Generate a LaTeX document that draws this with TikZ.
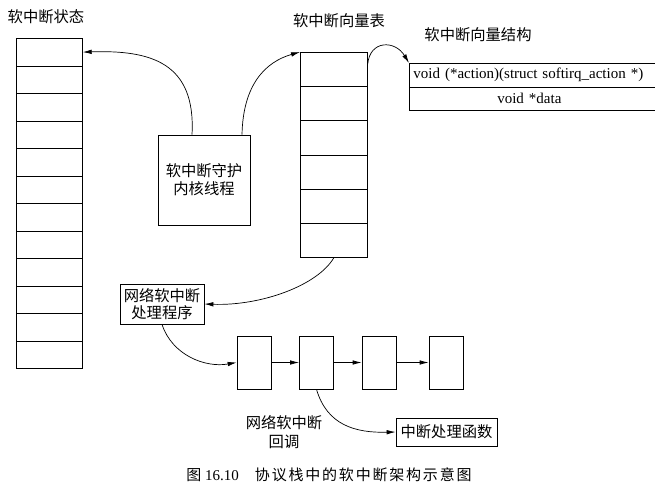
\documentclass[tikz,border=0pt]{standalone}
\usepackage{fontspec}
\setmainfont{Liberation Serif}
\newfontfamily\cjk{Noto Sans CJK SC}
\newfontfamily\cjkcap[LetterSpace=12]{Noto Sans CJK SC}
\usetikzlibrary{arrows.meta}
\begin{document}
\begin{tikzpicture}[x=1pt,y=-1pt,
  line width=0.7pt,
  box/.style={draw, inner sep=0pt, align=center, font=\fontsize{15.3}{18}\cjk},
  cell/.style={draw, inner sep=0pt, minimum width=#1, anchor=north west},
  lbl/.style={inner sep=0pt, align=center, font=\fontsize{15.3}{19}\cjk},
  arr/.style={-{Latex[length=9pt,width=4.5pt]}}]
\useasboundingbox (0,0) rectangle (655,496);
% left column
\node[lbl] (stt) at (46,17) {软中断状态};
\foreach \i in {1,...,12}
  \node[cell=66pt, minimum height=27.5pt] (s\i) at (16,{38+(\i-1)*27.5}) {};
% vector table
\node[lbl] (vtt) at (339,21) {软中断向量表};
\foreach \i in {1,...,6}
  \node[cell=67pt, minimum height=34.17pt] (v\i) at (300,{52+(\i-1)*34.17}) {};
% struct
\node[lbl] (stct) at (478,35) {软中断向量结构};
\node[cell=248pt, minimum height=23.5pt, font=\fontsize{15}{18}\selectfont, text width=244pt, align=left, inner xsep=4pt] (r1) at (409,63) {void (*action)(struct softirq\_action *)};
\node[cell=248pt, minimum height=23.5pt, font=\fontsize{15}{18}\selectfont, text width=236pt, align=center, inner xsep=4pt] (r2) at (409,86.5) {\hspace*{-8pt}void *data};
% daemon
\node[box, minimum width=92pt, minimum height=90pt] (d) at (204,180) {软中断守护\\内核线程};
% handler
\node[box, minimum width=84pt, minimum height=40pt, font=\fontsize{15.3}{17}\cjk] (h) at (162,304) {网络软中断\\处理程序};
% chain
\node[box, minimum width=34pt, minimum height=53pt] (c1) at (254,362.5) {};
\node[box, minimum width=34pt, minimum height=53pt] (c2) at (316.5,362.5) {};
\node[box, minimum width=34pt, minimum height=53pt] (c3) at (379,362.5) {};
\node[box, minimum width=34pt, minimum height=53pt] (c4) at (446,362.5) {};
% function
\node[box, minimum width=101pt, minimum height=28pt] (f) at (446.5,432) {中断处理函数};
\node[lbl] (cb) at (284,432) {网络软中断\\回调};
% connectors
\draw[arr] ([xshift=-12pt]d.north) .. controls (196,62) and (150,50) .. (s1.east);
\draw[arr] ([xshift=38pt]d.north) .. controls (243,85) and (265,62) .. (v1.north west);
\draw[arr] ([yshift=-12pt]v1.north east) .. controls (370,40) and (395,40) .. (r1.north west);
\draw[arr] (v6.south) .. controls (318,285) and (262,306) .. (h.east);
\draw[arr] (h.south) .. controls (172,355) and (205,368) .. (c1.west);
\draw[arr] (c1) -- (c2);
\draw[arr] (c2) -- (c3);
\draw[arr] (c3) -- (c4);
\draw[arr] (c2.south) .. controls (327,425) and (355,433) .. (f.west);
% caption
\node[inner sep=0pt, font=\fontsize{15}{18}\selectfont] (cap) at (329,475) {{\cjk 图} 16.10\hspace{16pt}{\cjkcap 协议栈中的软中断架构示意图}};
\end{tikzpicture}
\end{document}
